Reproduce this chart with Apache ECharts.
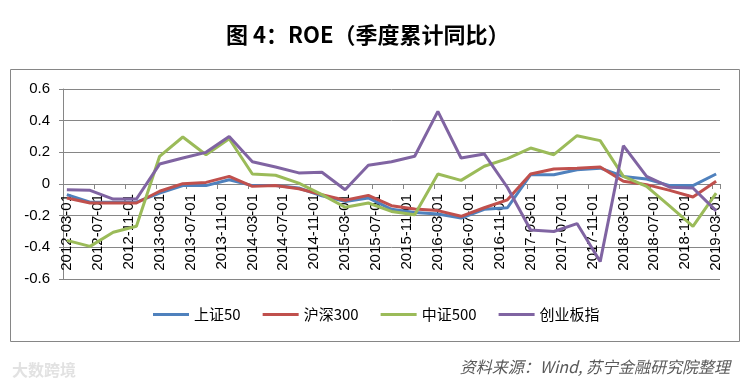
<!DOCTYPE html>
<html>
<head>
<meta charset="utf-8">
<script src="https://cdn.jsdelivr.net/npm/echarts@6/dist/echarts.min.js"></script>
<style>
html,body{margin:0;padding:0;background:#fff;}
#chart{width:753px;height:388px;}
</style>
</head>
<body>
<div id="chart"></div>
<script>
// Quarterly observation dates
const quarters = ["2012-03","2012-06","2012-09","2012-12","2013-03","2013-06","2013-09","2013-12",
  "2014-03","2014-06","2014-09","2014-12","2015-03","2015-06","2015-09","2015-12",
  "2016-03","2016-06","2016-09","2016-12","2017-03","2017-06","2017-09","2017-12",
  "2018-03","2018-06","2018-09","2018-12","2019-03"];
const seriesNames = ["上证50","沪深300","中证500","创业板指"];
const sz50 = [-0.067,-0.115,-0.115,-0.115,-0.057,-0.01,-0.01,0.027,
  -0.01,-0.01,-0.025,-0.074,-0.11,-0.088,-0.16,-0.18,
  -0.19,-0.215,-0.16,-0.15,0.059,0.059,0.09,0.10,
  0.048,0.032,-0.01,-0.01,0.063];
const hs300 = [-0.088,-0.12,-0.12,-0.12,-0.046,0.002,0.01,0.048,
  -0.015,-0.01,-0.03,-0.067,-0.103,-0.072,-0.137,-0.158,
  -0.168,-0.204,-0.15,-0.10,0.063,0.095,0.10,0.107,
  0.017,-0.004,-0.04,-0.082,0.017];
const zz500 = [-0.356,-0.394,-0.305,-0.267,0.175,0.297,0.185,0.286,
  0.063,0.055,0.006,-0.067,-0.147,-0.12,-0.173,-0.194,
  0.063,0.023,0.112,0.16,0.227,0.185,0.305,0.274,
  0.048,-0.015,-0.14,-0.267,-0.057];
const cyb = [-0.036,-0.04,-0.095,-0.095,0.126,0.164,0.20,0.30,
  0.14,0.107,0.07,0.074,-0.036,0.118,0.14,0.175,
  0.459,0.164,0.19,-0.022,-0.29,-0.30,-0.25,-0.49,
  0.242,0.048,-0.02,-0.025,-0.17];
const yTicks = [-0.6,-0.4,-0.2,0,0.2,0.4,0.6];
const colors = ["#4F81BD","#C0504D","#9BBB59","#8064A2"];

// Monthly date axis (Excel-style date axis)
const months = [];
for (let y = 2012, m = 3; y < 2019 || (y === 2019 && m <= 3); ) {
  months.push(y + "-" + String(m).padStart(2, "0") + "-01");
  m++; if (m > 12) { m = 1; y++; }
}
function toMonthly(vals) {
  const arr = months.map(() => null);
  quarters.forEach((q, i) => {
    const idx = months.indexOf(q + "-01");
    if (idx >= 0) arr[idx] = vals[i];
  });
  return arr;
}
const allVals = [sz50, hs300, zz500, cyb];

const gridTop = 89, gridBottom = 109, chartH = 388;
const plotH = chartH - gridTop - gridBottom;
const zeroOffset = plotH * (0 - yTicks[0]) / (yTicks[yTicks.length - 1] - yTicks[0]);

const chart = echarts.init(document.getElementById("chart"));
const gray = "#868686";
chart.setOption({
  animation: false,
  color: colors,
  title: {
    text: "图 4：ROE（季度累计同比）",
    left: 221, top: 19,
    textStyle: {fontFamily: "Noto Sans CJK SC", fontWeight: "bold", fontSize: 22, color: "#000"}
  },
  legend: {
    left: 148, top: 302,
    icon: "rect", itemWidth: 36, itemHeight: 3, itemGap: 22,
    textStyle: {fontFamily: "Noto Sans CJK SC", fontSize: 15, color: "#000"},
    data: seriesNames
  },
  grid: {left: 63, right: 33, top: gridTop, bottom: gridBottom, containLabel: false},
  xAxis: {
    type: "category",
    data: months,
    boundaryGap: true,
    position: "bottom",
    offset: -zeroOffset,
    axisLine: {onZero: false, lineStyle: {color: gray, width: 1}},
    axisTick: {show: true, length: 5, lineStyle: {color: gray}},
    axisLabel: {interval: 3, rotate: 90, margin: 10, fontSize: 15,
      fontFamily: "Liberation Sans", color: "#000"},
    splitLine: {show: false},
    z: 1
  },
  yAxis: {
    type: "value",
    min: yTicks[0], max: yTicks[yTicks.length - 1], interval: 0.2,
    axisLine: {show: true, lineStyle: {color: gray}},
    axisTick: {show: true, length: 4, lineStyle: {color: gray}},
    axisLabel: {fontSize: 15, fontFamily: "Liberation Sans", color: "#000", margin: 13,
      formatter: v => String(+v.toFixed(1))},
    splitLine: {lineStyle: {color: gray, width: 1}}
  },
  series: seriesNames.map((n, i) => ({
    name: n, type: "line",
    data: toMonthly(allVals[i]),
    connectNulls: true,
    showSymbol: false, symbol: "none",
    lineStyle: {width: 3, color: colors[i]},
    z: 3 + i
  })),
  graphic: [
    {type: "rect", shape: {x: 10.5, y: 69.5, width: 729, height: 272},
      style: {fill: "none", stroke: gray, lineWidth: 1}, silent: true, z: -1},
    {type: "text", right: 23, top: 359,
      style: {text: "资料来源：Wind, 苏宁金融研究院整理", fill: "#595959",
        font: "italic 16px 'Noto Sans CJK SC'"}},
    {type: "text", left: 12, top: 362,
      style: {text: "大数跨境", fill: "#e2e2e2", font: "bold 16px 'Noto Sans CJK SC'"}}
  ]
});
</script>
</body>
</html>
